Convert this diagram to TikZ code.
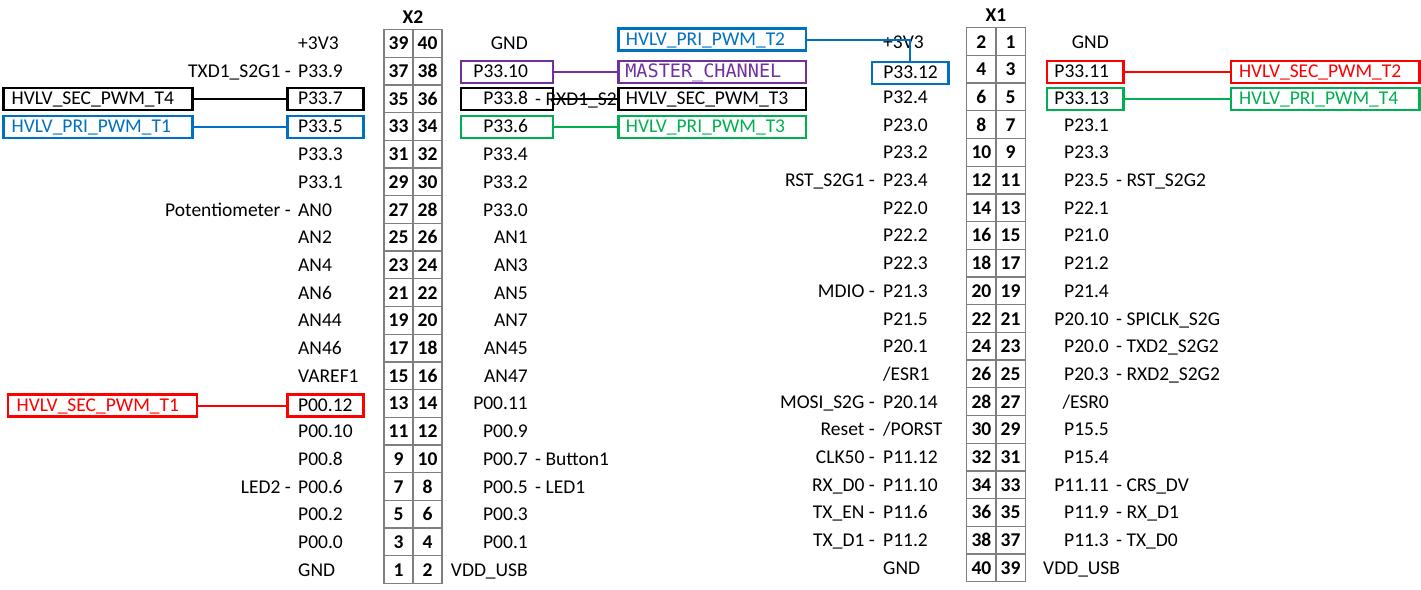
\documentclass[tikz,border=0pt]{standalone}
\usepackage{fontspec}
\setmainfont{Carlito}
\newfontfamily\monofnt{DejaVu Sans Mono}
\definecolor{cred}{HTML}{FF0000}
\definecolor{cblue}{HTML}{0070C0}
\definecolor{cgreen}{HTML}{00B050}
\definecolor{cpurple}{HTML}{7030A0}
\definecolor{cgrid}{HTML}{7F7F7F}
\newcommand\myL[3]{\hbox to #1pt{\hskip #2pt\relax #3\hfil}}
\newcommand\myR[3]{\hbox to #1pt{\hfil #3\hskip #2pt\relax}}
\newcommand\lblfont{\fontsize{19.5}{22}\selectfont}
\begin{document}
\begin{tikzpicture}[x=1pt,y=-1pt,
  lbl/.style={inner sep=0pt, font=\lblfont},
  lw/.style={lbl, anchor=base west},
  le/.style={lbl, anchor=base east},
  pnum/.style={inner sep=0pt, font=\lblfont\bfseries, anchor=base},
  ttl/.style={inner sep=0pt, font=\lblfont\bfseries, anchor=base},
  grid/.style={draw=cgrid, line width=1.3pt},
  bx/.style={draw, line width=2.4pt, minimum height=22pt, inner sep=0pt,
    font=\lblfont, text height=14pt, text depth=3pt},
  wire/.style={line width=2pt},
]
\useasboundingbox (0,0) rectangle (1421,589);

% ---------------- X2 header ----------------
\node[ttl] (x2title) at (413,23.3) {X2};
\draw[grid] (384,29.5) rectangle (442,583.5);
\draw[grid] (413,29.5) -- (413,583.5);
\foreach \i in {1,...,19} \draw[grid] (384,{29.5+27.7*\i}) -- (442,{29.5+27.7*\i});
\foreach \i/\a/\b in {0/39/40,1/37/38,2/35/36,3/33/34,4/31/32,5/29/30,6/27/28,7/25/26,8/23/24,9/21/22,10/19/20,11/17/18,12/15/16,13/13/14,14/11/12,15/9/10,16/7/8,17/5/6,18/3/4,19/1/2}{
  \node[pnum] (x2n\a) at (398.5,{49.85+27.7*\i}) {\a};
  \node[pnum] (x2n\b) at (427.5,{49.85+27.7*\i}) {\b};
}

% ---------------- X1 header ----------------
\node[ttl] (x1title) at (996,21.7) {X1};
\draw[grid] (966.7,27.7) rectangle (1025.3,581.7);
\draw[grid] (996,27.7) -- (996,581.7);
\foreach \i in {1,...,19} \draw[grid] (966.7,{27.7+27.7*\i}) -- (1025.3,{27.7+27.7*\i});
\foreach \i/\a/\b in {0/2/1,1/4/3,2/6/5,3/8/7,4/10/9,5/12/11,6/14/13,7/16/15,8/18/17,9/20/19,10/22/21,11/24/23,12/26/25,13/28/27,14/30/29,15/32/31,16/34/33,17/36/35,18/38/37,19/40/39}{
  \node[pnum] (x1n\a) at (981.4,{48.05+27.7*\i}) {\a};
  \node[pnum] (x1n\b) at (1010.6,{48.05+27.7*\i}) {\b};
}

% ---------------- X2 left labels ----------------
\node[lw] (l2a0) at (298,49.85) {+3V3};
\node[lw] (l2a1) at (298,77.55) {P33.9};
\node[le] (p2a1) at (291,77.55) {TXD1\_S2G1 -};
\node[lw] (l2a4) at (298,160.65) {P33.3};
\node[lw] (l2a5) at (298,188.35) {P33.1};
\node[lw] (l2a6) at (298,216.05) {AN0};
\node[le] (p2a6) at (291,216.05) {Potentiometer -};
\node[lw] (l2a7) at (298,243.75) {AN2};
\node[lw] (l2a8) at (298,271.45) {AN4};
\node[lw] (l2a9) at (298,299.15) {AN6};
\node[lw] (l2a10) at (298,326.85) {AN44};
\node[lw] (l2a11) at (298,354.55) {AN46};
\node[lw] (l2a12) at (298,382.25) {VAREF1};
\node[lw] (l2a14) at (298,437.65) {P00.10};
\node[lw] (l2a15) at (298,465.35) {P00.8};
\node[lw] (l2a16) at (298,493.05) {P00.6};
\node[le] (p2a16) at (291,493.05) {LED2 -};
\node[lw] (l2a17) at (298,520.75) {P00.2};
\node[lw] (l2a18) at (298,548.45) {P00.0};
\node[lw] (l2a19) at (298,576.15) {GND};

% ---------------- X2 right labels ----------------
\node[le] (r2a0) at (528,49.85) {GND};
\begin{scope}
  \clip (530,85) rectangle (616.5,115);
  \node[lw] (s2a2) at (535,105.25) {- RXD1\_S2};
\end{scope}
\node[le] (r2a4) at (528,160.65) {P33.4};
\node[le] (r2a5) at (528,188.35) {P33.2};
\node[le] (r2a6) at (528,216.05) {P33.0};
\node[le] (r2a7) at (528,243.75) {AN1};
\node[le] (r2a8) at (528,271.45) {AN3};
\node[le] (r2a9) at (528,299.15) {AN5};
\node[le] (r2a10) at (528,326.85) {AN7};
\node[le] (r2a11) at (528,354.55) {AN45};
\node[le] (r2a12) at (528,382.25) {AN47};
\node[le] (r2a13) at (528,409.95) {P00.11};
\node[le] (r2a14) at (528,437.65) {P00.9};
\node[le] (r2a15) at (528,465.35) {P00.7};
\node[lw] (s2a15) at (535,465.35) {- Button1};
\node[le] (r2a16) at (528,493.05) {P00.5};
\node[lw] (s2a16) at (535,493.05) {- LED1};
\node[le] (r2a17) at (528,520.75) {P00.3};
\node[le] (r2a18) at (528,548.45) {P00.1};
\node[le] (r2a19) at (528,576.15) {VDD\_USB};

% ---------------- X1 left labels ----------------
\node[lw] (l1a0) at (883,48.05) {+3V3};
\node[lw] (l1a2) at (883,103.45) {P32.4};
\node[lw] (l1a3) at (883,131.15) {P23.0};
\node[lw] (l1a4) at (883,158.85) {P23.2};
\node[lw] (l1a5) at (883,186.55) {P23.4};
\node[le] (p1a5) at (875,186.55) {RST\_S2G1 -};
\node[lw] (l1a6) at (883,214.25) {P22.0};
\node[lw] (l1a7) at (883,241.95) {P22.2};
\node[lw] (l1a8) at (883,269.65) {P22.3};
\node[lw] (l1a9) at (883,297.35) {P21.3};
\node[le] (p1a9) at (875,297.35) {MDIO -};
\node[lw] (l1a10) at (883,325.05) {P21.5};
\node[lw] (l1a11) at (883,352.75) {P20.1};
\node[lw] (l1a12) at (883,380.45) {/ESR1};
\node[lw] (l1a13) at (883,408.15) {P20.14};
\node[le] (p1a13) at (875,408.15) {MOSI\_S2G -};
\node[lw] (l1a14) at (883,435.85) {/PORST};
\node[le] (p1a14) at (875,435.85) {Reset -};
\node[lw] (l1a15) at (883,463.55) {P11.12};
\node[le] (p1a15) at (875,463.55) {CLK50 -};
\node[lw] (l1a16) at (883,491.25) {P11.10};
\node[le] (p1a16) at (875,491.25) {RX\_D0 -};
\node[lw] (l1a17) at (883,518.95) {P11.6};
\node[le] (p1a17) at (875,518.95) {TX\_EN -};
\node[lw] (l1a18) at (883,546.65) {P11.2};
\node[le] (p1a18) at (875,546.65) {TX\_D1 -};
\node[lw] (l1a19) at (883,574.35) {GND};

% ---------------- X1 right labels ----------------
\node[le] (r1a0) at (1109,48.05) {GND};
\node[le] (r1a3) at (1109,131.15) {P23.1};
\node[le] (r1a4) at (1109,158.85) {P23.3};
\node[le] (r1a5) at (1109,186.55) {P23.5};
\node[lw] (s1a5) at (1116,186.55) {- RST\_S2G2};
\node[le] (r1a6) at (1109,214.25) {P22.1};
\node[le] (r1a7) at (1109,241.95) {P21.0};
\node[le] (r1a8) at (1109,269.65) {P21.2};
\node[le] (r1a9) at (1109,297.35) {P21.4};
\node[le] (r1a10) at (1109,325.05) {P20.10};
\node[lw] (s1a10) at (1116,325.05) {- SPICLK\_S2G};
\node[le] (r1a11) at (1109,352.75) {P20.0};
\node[lw] (s1a11) at (1116,352.75) {- TXD2\_S2G2};
\node[le] (r1a12) at (1109,380.45) {P20.3};
\node[lw] (s1a12) at (1116,380.45) {- RXD2\_S2G2};
\node[le] (r1a13) at (1109,408.15) {/ESR0};
\node[le] (r1a14) at (1109,435.85) {P15.5};
\node[le] (r1a15) at (1109,463.55) {P15.4};
\node[le] (r1a16) at (1109,491.25) {P11.11};
\node[lw] (s1a16) at (1116,491.25) {- CRS\_DV};
\node[le] (r1a17) at (1109,518.95) {P11.9};
\node[lw] (s1a17) at (1116,518.95) {- RX\_D1};
\node[le] (r1a18) at (1109,546.65) {P11.3};
\node[lw] (s1a18) at (1116,546.65) {- TX\_D0};
\node[lw] (r1a19) at (1043,574.35) {VDD\_USB};

% ---------------- boxes ----------------
% X2 left pin boxes
\node[bx, draw=black] (b337) at (325.3,98.9) {\myL{76}{10.7}{P33.7}};
\node[bx, draw=cblue] (b335) at (325.3,127.2) {\myL{76}{10.7}{P33.5}};
\node[bx, draw=cred] (b0012) at (325.3,405.5) {\myL{76}{10.7}{P00.12}};
% X2 right pin boxes
\node[bx, draw=cpurple] (b3310) at (506.7,72.2) {\myR{92}{24.7}{P33.10}};
\node[bx, draw=black] (b338) at (506.7,98.9) {\myR{92}{24.7}{P33.8}};
\node[bx, draw=cgreen] (b336) at (506.7,127.2) {\myR{92}{24.7}{P33.6}};
% far left signal boxes
\node[bx, draw=black] (sst4) at (97.8,98.9) {\myL{189}{8.4}{HVLV\_SEC\_PWM\_T4}};
\node[bx, draw=cblue, text=cblue] (spt1) at (97.8,127.2) {\myL{189}{8.4}{HVLV\_PRI\_PWM\_T1}};
\node[bx, draw=cred, text=cred] (sst1) at (102.2,405.5) {\myL{189}{9}{HVLV\_SEC\_PWM\_T1}};
% middle signal boxes
\node[bx, draw=cblue, text=cblue] (spt2) at (712.2,39.5) {\myL{187.7}{7.5}{HVLV\_PRI\_PWM\_T2}};
\node[bx, draw=cpurple, text=cpurple] (smc) at (712.2,72.2) {\myL{187.7}{7}{\fontsize{18.5}{20}\monofnt MASTER\_CHANNEL}};
\node[bx, draw=black, fill=white] (sst3) at (712.2,98.9) {\myL{187.7}{7.5}{HVLV\_SEC\_PWM\_T3}};
\node[bx, draw=cgreen, text=cgreen] (spt3) at (712.2,127.2) {\myL{187.7}{7.5}{HVLV\_PRI\_PWM\_T3}};
% X1 pin boxes
\node[bx, draw=cblue] (b3312) at (910,72.9) {\myL{76.6}{11.6}{P33.12}};
\node[bx, draw=cred] (b3311) at (1085,72.2) {\myR{76.6}{14.3}{P33.11}};
\node[bx, draw=cgreen] (b3313) at (1085,98.9) {\myR{76.6}{14.3}{P33.13}};
% far right signal boxes
\node[bx, draw=cred, text=cred] (sst2) at (1325,72.2) {\myL{188.6}{8.3}{HVLV\_SEC\_PWM\_T2}};
\node[bx, draw=cgreen, text=cgreen] (spt4) at (1325,98.9) {\myL{188.6}{8.3}{HVLV\_PRI\_PWM\_T4}};

% ---------------- connectors ----------------
\draw[wire, black] (sst4.east) -- (b337.west);
\draw[wire, cblue] (spt1.east) -- (b335.west);
\draw[wire, cred] (sst1.east) -- (b0012.west);
\draw[wire, cpurple] (b3310.east) -- (smc.west);
\draw[wire, black] (b338.east) -- (sst3.west);
\draw[wire, cgreen] (b336.east) -- (spt3.west);
\draw[wire, cblue] (spt2.east) -| (b3312.north);
\draw[wire, cred] (b3311.east) -- (sst2.west);
\draw[wire, cgreen] (b3313.east) -- (spt4.west);
\end{tikzpicture}
\end{document}
